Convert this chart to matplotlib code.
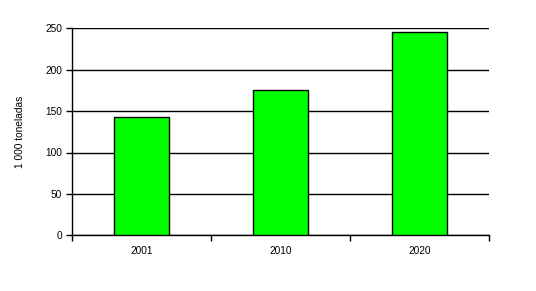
import matplotlib
matplotlib.use("Agg")
import matplotlib.pyplot as plt
import numpy as np

categories = ["2001", "2010", "2020"]
values = [143, 175, 245]
y_ticks = [0, 50, 100, 150, 200, 250]

plt.rcParams['font.family'] = ['Liberation Sans', 'DejaVu Sans']

fig = plt.figure(figsize=(5.36, 2.91), dpi=100)
ax = fig.add_axes([72/536, 1-235.3/291, (489-72)/536, (235.3-28.3)/291])

x = np.arange(len(categories))
ax.bar(x, values, width=0.4, color="#00FF00", edgecolor="black", linewidth=1.0, zorder=3)

ax.set_xlim(-0.5, len(categories) - 0.5)
ax.set_ylim(0, 250)
ax.set_yticks(y_ticks)
ax.set_yticklabels([str(v) for v in y_ticks], fontsize=7.3)
ax.yaxis.grid(True, color="black", linewidth=1.0, zorder=0)
ax.set_axisbelow(True)

# category labels centered, ticks at boundaries
ax.set_xticks(x)
ax.set_xticklabels(categories, fontsize=7.3)
ax.tick_params(axis='x', which='major', length=0, pad=8)
ax.set_xticks(np.arange(-0.5, len(categories)), minor=True)
ax.tick_params(axis='x', which='minor', length=4, width=1, direction='out')
ax.tick_params(axis='y', length=4, width=1, direction='out', pad=3)

for s in ['top', 'right']:
    ax.spines[s].set_visible(False)
for s in ['left', 'bottom']:
    ax.spines[s].set_linewidth(1.0)
    ax.spines[s].set_color("black")

ax.set_ylabel("1 000 toneladas", fontsize=7.3, labelpad=15)

fig.savefig("out.png", dpi=100)
